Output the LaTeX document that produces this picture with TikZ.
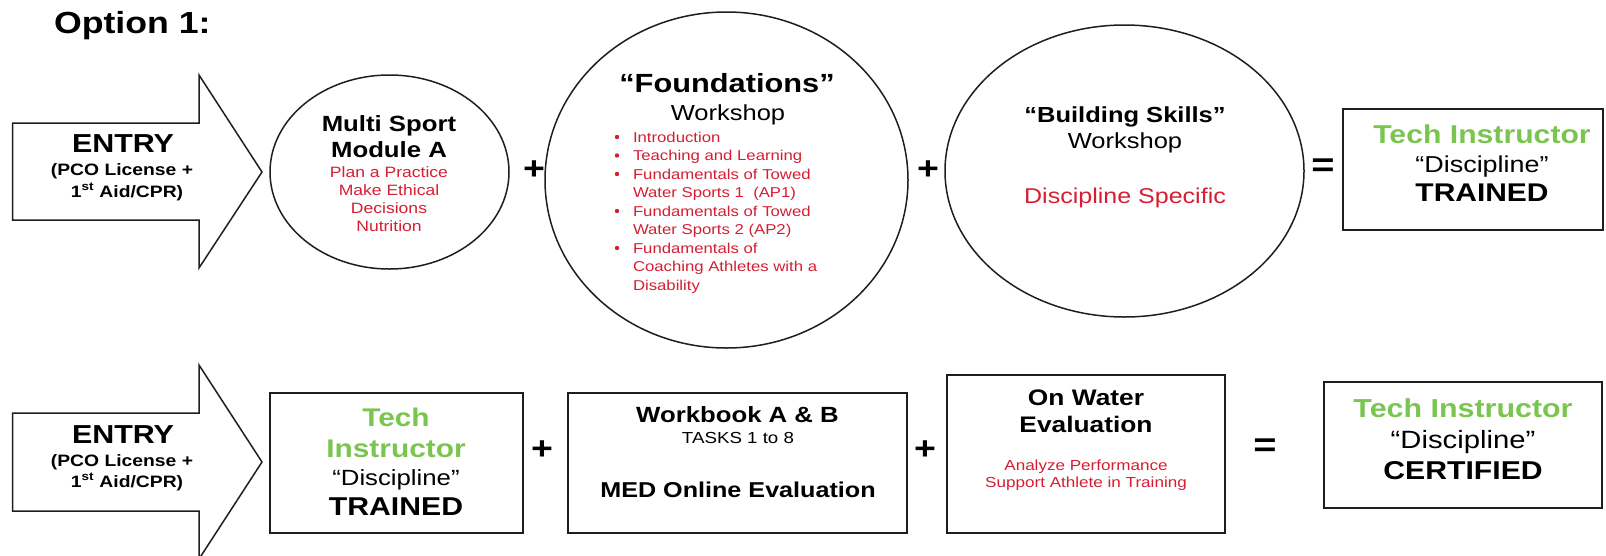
\documentclass[tikz,border=0pt]{standalone}
\usepackage{fontspec}
\setmainfont{Liberation Sans}[FakeStretch=1.17]
\usetikzlibrary{shapes.geometric}
\definecolor{txtred}{RGB}{212,30,50}
\definecolor{txtgreen}{RGB}{122,196,80}
\definecolor{edgecol}{RGB}{30,30,30}
\newcommand{\setfs}[1]{\fontsize{#1}{#1}\selectfont}
\begin{document}
\begin{tikzpicture}[x=1pt,y=-1pt,
  lbl/.style={anchor=base, inner sep=0pt, outer sep=0pt},
  outline/.style={draw=edgecol, line width=1.5pt},
  boxnode/.style={outline, rectangle, inner sep=0pt},
  ovalnode/.style={outline, ellipse, inner sep=0pt},
  opsym/.style={inner sep=0pt, font=\bfseries\setfs{32}},
  eqsym/.style={inner sep=0pt, font=\bfseries\setfs{34}},
  big/.style={font=\bfseries\setfs{#1}},
  reg/.style={font=\setfs{#1}},
  redtxt/.style={text=txtred, font=\setfs{#1}},
  greentxt/.style={text=txtgreen, font=\bfseries\setfs{#1}},
]
\useasboundingbox (0,0) rectangle (1606,555);
\clip (0,0) rectangle (1606,555);

% title
\node[lbl, anchor=base west, big=30.5] (title) at (54,33) {Option 1:};

% ---------- top row ----------
\draw[outline, line join=miter] (12.5,123) -- (199,123) -- (199,75) -- (262,172) -- (199,268) -- (199,220) -- (12.5,220) -- cycle;
\node[lbl, big=26] (e1a) at (123,152) {ENTRY};
\node[lbl, big=16.5] (e1b) at (122,175) {(PCO License +};
\node[lbl, big=16.5] (e1c) at (127,197) {1\textsuperscript{st} Aid/CPR)};

\node[ovalnode, minimum width=239pt, minimum height=194pt] (ms) at (389.5,172) {};
\node[lbl, big=22] (ms1) at (389,131) {Multi Sport};
\node[lbl, big=22] (ms2) at (389,157) {Module A};
\node[lbl, redtxt=15] (ms3) at (389,177) {Plan a Practice};
\node[lbl, redtxt=15] (ms4) at (389,195) {Make Ethical};
\node[lbl, redtxt=15] (ms5) at (389,213) {Decisions};
\node[lbl, redtxt=15] (ms6) at (389,231) {Nutrition};

\node[opsym] (plus1) at (534,170) {+};

\node[ovalnode, minimum width=363pt, minimum height=336pt] (found) at (726.5,180) {};
\node[lbl, big=26.3] (f1) at (727,92) {“Foundations”};
\node[lbl, reg=21.8] (f2) at (728,120) {Workshop};
\foreach \yy in {142,160.5,179,216,253} {\fill[txtred] (617,\yy-5) circle (2.2);}
\node[lbl, anchor=base west, redtxt=14.3] (fb1) at (633,142) {Introduction};
\node[lbl, anchor=base west, redtxt=14.3] (fb2) at (633,160.5) {Teaching and Learning};
\node[lbl, anchor=base west, redtxt=14.3] (fb3) at (633,179) {Fundamentals of Towed};
\node[lbl, anchor=base west, redtxt=14.3] (fb4) at (633,197.5) {Water Sports 1 \ (AP1)};
\node[lbl, anchor=base west, redtxt=14.3] (fb5) at (633,216) {Fundamentals of Towed};
\node[lbl, anchor=base west, redtxt=14.3] (fb6) at (633,234.5) {Water Sports 2 (AP2)};
\node[lbl, anchor=base west, redtxt=14.3] (fb7) at (633,253) {Fundamentals of};
\node[lbl, anchor=base west, redtxt=14.3] (fb8) at (633,271.5) {Coaching Athletes with a};
\node[lbl, anchor=base west, redtxt=14.3] (fb9) at (633,290) {Disability};

\node[opsym] (plus2) at (928,170) {+};

\node[ovalnode, minimum width=359pt, minimum height=292pt] (build) at (1124.5,171) {};
\node[lbl, big=21.8] (b1) at (1125,122) {“Building Skills”};
\node[lbl, reg=21.8] (b2) at (1125,148) {Workshop};
\node[lbl, redtxt=21.4] (b3) at (1125,203) {Discipline Specific};

\node[eqsym] (eq1) at (1323,168) {=};

\node[boxnode, minimum width=260pt, minimum height=121pt] (trained1) at (1473,169.5) {};
\node[lbl, greentxt=25.8] (t1a) at (1482,143) {Tech Instructor};
\node[lbl, reg=23] (t1b) at (1482,172) {“Discipline”};
\node[lbl, big=25.6] (t1c) at (1482,201) {TRAINED};

% ---------- bottom row ----------
\draw[outline, line join=miter] (12.5,413) -- (199,413) -- (199,365) -- (262,462) -- (199,559) -- (199,511) -- (12.5,511) -- cycle;
\node[lbl, big=26] (e2a) at (123,443) {ENTRY};
\node[lbl, big=16.5] (e2b) at (122,466) {(PCO License +};
\node[lbl, big=16.5] (e2c) at (127,487) {1\textsuperscript{st} Aid/CPR)};

\node[boxnode, minimum width=253pt, minimum height=140pt] (trained2) at (396.5,463) {};
\node[lbl, greentxt=25.5] (t2a) at (396,426) {Tech};
\node[lbl, greentxt=25.5] (t2b) at (396,457) {Instructor};
\node[lbl, reg=22] (t2c) at (396,485) {“Discipline”};
\node[lbl, big=25.8] (t2d) at (396,515) {TRAINED};

\node[opsym] (plus3) at (542,450) {+};

\node[boxnode, minimum width=339pt, minimum height=140pt] (workbook) at (737.5,463) {};
\node[lbl, big=22] (w1) at (737.5,422) {Workbook A \& B};
\node[lbl, reg=16] (w2) at (738,443) {TASKS 1 to 8};
\node[lbl, big=21.5] (w3) at (738,497) {MED Online Evaluation};

\node[opsym] (plus4) at (925,450) {+};

\node[boxnode, minimum width=278pt, minimum height=158pt] (water) at (1086,454) {};
\node[lbl, big=22.5] (o1) at (1086,405) {On Water};
\node[lbl, big=22.5] (o2) at (1086,432) {Evaluation};
\node[lbl, redtxt=14.6] (o3) at (1086,470) {Analyze Performance};
\node[lbl, redtxt=14.6] (o4) at (1086,487) {Support Athlete in Training};

\node[eqsym] (eq2) at (1265,448) {=};

\node[boxnode, minimum width=278pt, minimum height=126pt] (certified) at (1463,445) {};
\node[lbl, greentxt=26] (c1) at (1463,417) {Tech Instructor};
\node[lbl, reg=25] (c2) at (1463,448) {“Discipline”};
\node[lbl, big=25.8] (c3) at (1463,479) {CERTIFIED};
\end{tikzpicture}
\end{document}
